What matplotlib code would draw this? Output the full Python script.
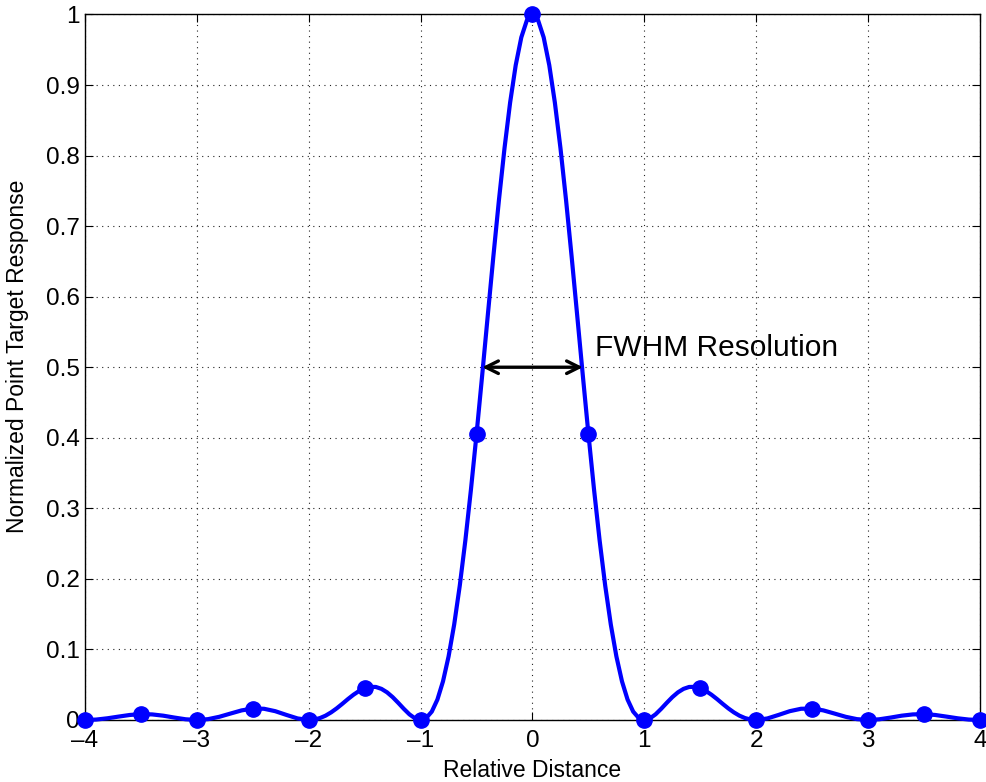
import numpy as np
import matplotlib
matplotlib.use("Agg")
import matplotlib.pyplot as plt

plt.rcParams['font.family'] = ['Liberation Sans', 'DejaVu Sans']

# response for x >= 0 (curve is symmetric about 0)
half_x = [0.0, 0.05, 0.1, 0.15, 0.2, 0.25, 0.3, 0.35, 0.4, 0.45,
          0.5, 0.55, 0.6, 0.65, 0.7, 0.75, 0.8, 0.85, 0.9, 0.95,
          1.0, 1.05, 1.1, 1.15, 1.2, 1.25, 1.3, 1.35, 1.4, 1.45,
          1.5, 1.55, 1.6, 1.65, 1.7, 1.75, 1.8, 1.85, 1.9, 1.95,
          2.0, 2.1, 2.2, 2.3, 2.4, 2.5, 2.6, 2.7, 2.8, 2.9,
          3.0, 3.1, 3.2, 3.3, 3.4, 3.5, 3.6, 3.7, 3.8, 3.9, 4.0]
half_y = [1.0, 0.9918, 0.9675, 0.9281, 0.8751, 0.8106, 0.7368, 0.6566, 0.5728, 0.4881,
          0.4053, 0.3268, 0.2546, 0.1904, 0.1353, 0.0901, 0.0547, 0.0289, 0.0119, 0.0028,
          0.0, 0.0023, 0.0080, 0.0158, 0.0243, 0.0324, 0.0392, 0.0441, 0.0468, 0.0470,
          0.0450, 0.0411, 0.0358, 0.0296, 0.0229, 0.0165, 0.0108, 0.0061, 0.0027, 0.0007,
          0.0, 0.0022, 0.0072, 0.0125, 0.0159, 0.0162, 0.0136, 0.0091, 0.0045, 0.0012,
          0.0, 0.0010, 0.0034, 0.0061, 0.0079, 0.0083, 0.0071, 0.0048, 0.0024, 0.0006, 0.0]

x = np.concatenate([-np.array(half_x[:0:-1]), half_x])
y = np.concatenate([np.array(half_y[:0:-1]), half_y])

# markers sit every 0.5
on_mark = np.isclose(x * 2, np.round(x * 2))
mx = x[on_mark]
my = y[on_mark]

xticks = [-4, -3, -2, -1, 0, 1, 2, 3, 4]
yticks = [0, 0.1, 0.2, 0.3, 0.4, 0.5, 0.6, 0.7, 0.8, 0.9, 1]
fwhm = 0.45

fig = plt.figure(figsize=(9.86, 7.82), dpi=100)
ax = fig.add_axes([0.0862, 0.0793, 0.9077, 0.9022])

ax.plot(x, y, color='#0000ff', lw=3, zorder=3, clip_on=False)
ax.plot(mx, my, 'o', color='#0000ff', ms=11, zorder=4, clip_on=False)

ax.annotate('', xy=(fwhm, 0.5), xytext=(-fwhm, 0.5),
            arrowprops=dict(arrowstyle='<->,head_length=0.9,head_width=0.45',
                            color='black', lw=2.4, shrinkA=0, shrinkB=0))
ax.text(0.56, 0.516, 'FWHM Resolution', fontsize=21.5, va='baseline')

ax.set_xlim(-4, 4)
ax.set_ylim(0, 1)
ax.set_xticks(xticks)
ax.set_yticks(yticks)
ax.set_xticklabels(['\u2013' + str(-t) if t < 0 else str(t) for t in xticks])
ax.set_yticklabels(['0', '0.1', '0.2', '0.3', '0.4', '0.5', '0.6', '0.7', '0.8', '0.9', '1'])
ax.tick_params(direction='in', top=True, right=True, labelsize=17.5, length=6)
ax.tick_params(axis='x', pad=7)
ax.tick_params(axis='y', pad=4)
ax.grid(True, linestyle=(0, (1, 4)), color='#222222', lw=0.8)

ax.set_xlabel('Relative Distance', fontsize=16.5, labelpad=5)
ax.set_ylabel('Normalized Point Target Response', fontsize=16.5)
ax.yaxis.set_label_coords(-0.063, 0.515)
for s in ax.spines.values():
    s.set_linewidth(1.0)

fig.savefig('out.png', dpi=100)
